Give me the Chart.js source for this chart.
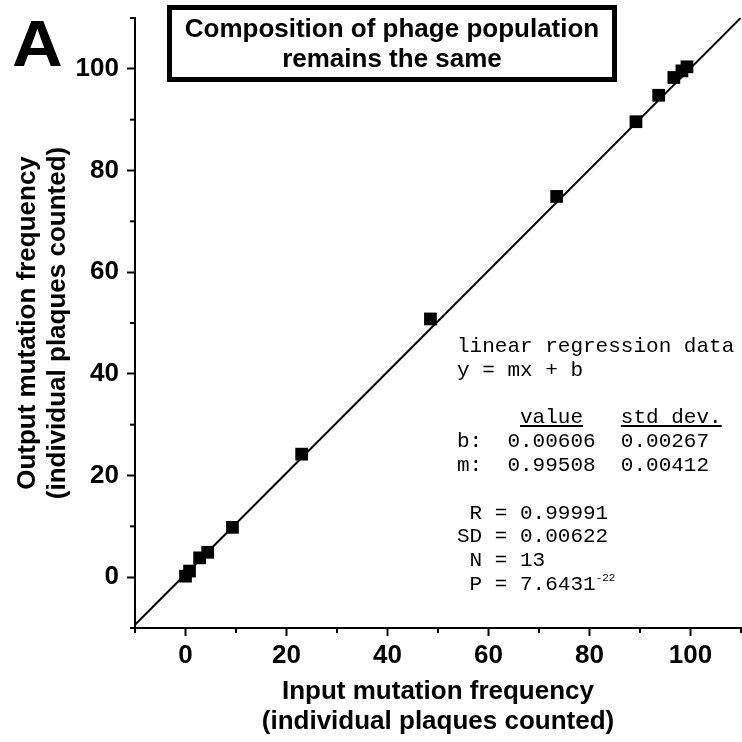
<!DOCTYPE html>
<html>
<head>
<meta charset="utf-8">
<script src="https://cdn.jsdelivr.net/npm/chart.js@4"></script>
<style>
  html, body { margin: 0; padding: 0; background: #fff; }
  #wrap { position: relative; width: 742px; height: 742px; overflow: hidden; }
  #c { position: absolute; left: 0; top: 0; }
  .panel { position: absolute; left: 12px; top: 11px; font: bold 65px "Liberation Sans", Arial, sans-serif; line-height: 65px; color: #000;
           transform: scaleX(1.08); transform-origin: left top; }
  .tbox { position: absolute; left: 167px; top: 5px; width: 450px; height: 77px; box-sizing: border-box; border: 5px solid #000;
          padding-top: 3px; text-align: center; font: bold 26px "Liberation Sans", Arial, sans-serif; line-height: 30px; color: #000; }
  .reg { position: absolute; left: 457px; top: 335px; margin: 0; font: 21px "Courier New", "Liberation Mono", monospace; line-height: 23.8px; color: #000; }
  .reg sup { font-size: 11px; vertical-align: 9px; line-height: 0; }
</style>
</head>
<body>
<div id="wrap">
  <canvas id="c" width="742" height="742"></canvas>
  <div class="panel">A</div>
  <div class="tbox">Composition of phage population<br>remains the same</div>
<pre class="reg">linear regression data
y = mx + b

     <u>value</u>   <u>std dev.</u>
b:  0.00606  0.00267
m:  0.99508  0.00412

 R = 0.99991
SD = 0.00622
 N = 13
 P = 7.6431<sup>-22</sup></pre>
</div>
<script>
// values (percent)
const inputFreq  = [0, 0.8, 2.8, 4.4, 9.3, 23, 48.5, 73.5, 89.2, 93.7, 96.7, 98.3, 99.3];
const outputFreq = [0.2, 1.2, 3.8, 4.9, 9.8, 24.2, 50.8, 74.9, 89.6, 94.8, 98.3, 99.6, 100.4];
const axisMin = -10, axisMax = 110;
const majorTicks = [0, 20, 40, 60, 80, 100];
// regression from the figure text (fractions -> percent)
const regSlope = 0.99508, regIntercept = 0.00606;

const pts = inputFreq.map((x, i) => ({x, y: outputFreq[i]}));
const lineX = [axisMin, axisMax];
const regLine = lineX.map(x => ({x, y: regSlope * x + regIntercept * 100}));

const FONT = '"Liberation Sans", Arial, sans-serif';
const isMajor = v => majorTicks.includes(v);

// short minor ticks (every 10), major ones come from the grid
const minorTicks = {
  id: 'minorTicks',
  afterDraw(chart) {
    const {ctx, scales: {x, y}} = chart;
    ctx.save();
    ctx.strokeStyle = '#000'; ctx.lineWidth = 2;
    x.ticks.forEach(t => {
      if (isMajor(t.value)) return;
      const px = x.getPixelForValue(t.value);
      ctx.beginPath(); ctx.moveTo(px, x.top); ctx.lineTo(px, x.top + 5); ctx.stroke();
    });
    y.ticks.forEach(t => {
      if (isMajor(t.value)) return;
      const py = y.getPixelForValue(t.value);
      ctx.beginPath(); ctx.moveTo(y.right, py); ctx.lineTo(y.right - 5, py); ctx.stroke();
    });
    ctx.restore();
  }
};

const axisCommon = {
  type: 'linear', min: axisMin, max: axisMax,
  border: {display: true, color: '#000', width: 2},
  grid: {drawOnChartArea: false, drawTicks: true, tickLength: 8, tickWidth: 2,
         tickColor: c => isMajor(c.tick.value) ? '#000' : 'rgba(0,0,0,0)'},
  ticks: {stepSize: 10, color: '#000', font: {family: FONT, size: 26, weight: 'bold'},
          callback: v => isMajor(v) ? String(v) : ''}
};

new Chart(document.getElementById('c'), {
  type: 'scatter',
  data: {datasets: [
    {label: 'fit', data: regLine, showLine: true, borderColor: '#000', borderWidth: 2, pointRadius: 0, order: 2},
    {label: 'data', data: pts, pointStyle: 'rect', pointRadius: 9, backgroundColor: '#000', borderColor: '#000', borderWidth: 0, order: 1}
  ]},
  options: {
    responsive: false, animation: false, devicePixelRatio: 1,
    layout: {autoPadding: false, padding: {top: 18, right: 1, left: 0, bottom: 0}},
    plugins: {legend: {display: false}, tooltip: {enabled: false}},
    scales: {
      x: {...axisCommon, position: 'bottom',
          ticks: {...axisCommon.ticks, padding: 4, maxRotation: 0, autoSkip: false},
          title: {display: true, text: ['Input mutation frequency', '(individual plaques counted)'], color: '#000',
                  font: {family: FONT, size: 26, weight: 'bold', lineHeight: 1.15}, padding: {top: 0, bottom: 5}},
          afterFit: s => { s.height = 114; s.paddingLeft = 0; s.paddingRight = 0; }},
      y: {...axisCommon, position: 'left',
          ticks: {...axisCommon.ticks, padding: 8, autoSkip: false},
          title: {display: true, text: ['Output mutation frequency', '(individual plaques counted)'], color: '#000',
                  font: {family: FONT, size: 26, weight: 'bold', lineHeight: 1.15}, padding: {top: 13, bottom: 0}},
          afterFit: s => { s.width = 135; s.paddingTop = 0; s.paddingBottom = 0; }}
    }
  },
  plugins: [minorTicks]
});
</script>
</body>
</html>
